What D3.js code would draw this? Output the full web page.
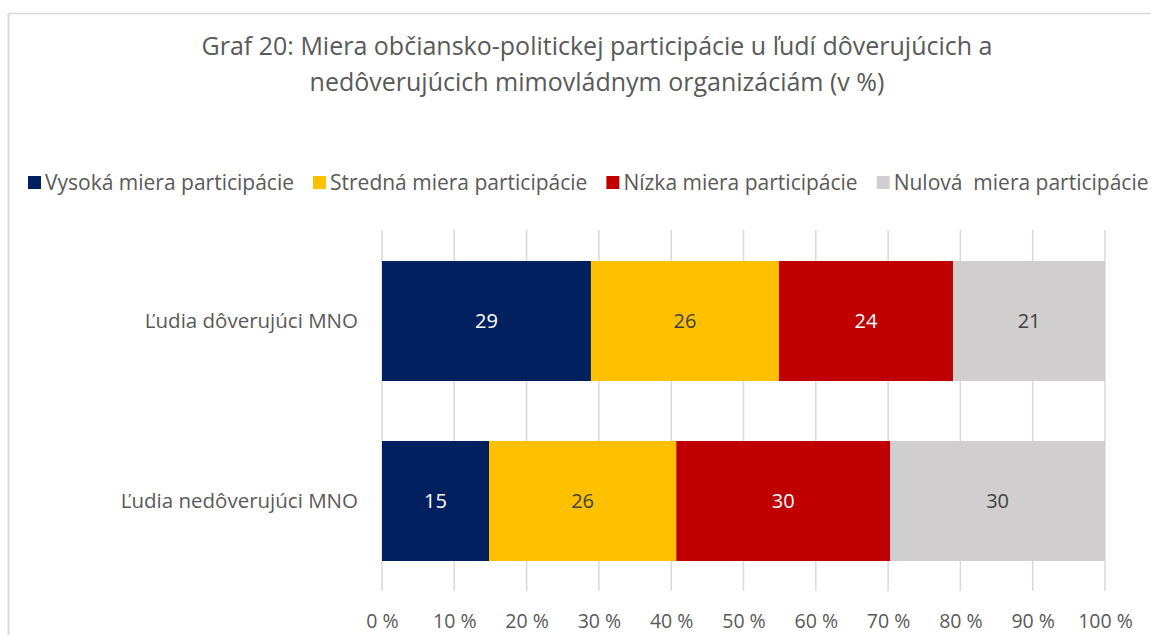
<!DOCTYPE html>
<html>
<head>
<meta charset="utf-8">
<script src="https://cdn.jsdelivr.net/npm/d3@7"></script>
<style>
  body { margin: 0; background: #fff; }
  text { font-family: "Open Sans", sans-serif; }
</style>
</head>
<body>
<div id="chart"></div>
<script>
// Chart values
const titleLines = [
  "Graf 20: Miera občiansko-politickej participácie u ľudí dôverujúcich a",
  "nedôverujúcich mimovládnym organizáciám (v %)"
];
const categories = ["Ľudia dôverujúci MNO", "Ľudia nedôverujúci MNO"];
const seriesNames = ["Vysoká miera participácie", "Stredná miera participácie", "Nízka miera participácie", "Nulová  miera participácie"];
const seriesColors = ["#002060", "#FFC000", "#C00000", "#D0CECE"];
const labelColors = ["#ffffff", "#404040", "#ffffff", "#404040"];
const vysoka = [28.9, 14.8];
const stredna = [26.0, 25.9];
const nizka = [24.1, 29.6];
const nulova = [21.0, 29.7];
const xTicks = [0, 10, 20, 30, 40, 50, 60, 70, 80, 90, 100];

const width = 1151, height = 635;
// plot area, roughly where Excel put it
const plot = { left: 382, right: 1105, top: 230, bottom: 591 };

const svg = d3.select("#chart").append("svg")
  .attr("width", width)
  .attr("height", height);

// frame around the chart (only top and left edges are visible)
svg.append("line").attr("x1", 8.5).attr("x2", width).attr("y1", 13.5).attr("y2", 13.5)
  .attr("stroke", "#d9d9d9").attr("stroke-width", 1.5);
svg.append("line").attr("x1", 8.5).attr("x2", 8.5).attr("y1", 13.5).attr("y2", height)
  .attr("stroke", "#d9d9d9").attr("stroke-width", 2);

// Title
svg.append("g").selectAll("text")
  .data(titleLines)
  .enter().append("text")
    .attr("x", 597)
    .attr("y", (d, i) => 55 + i * 36)
    .attr("text-anchor", "middle")
    .style("font-size", "25px")
    .style("fill", "#595959")
    .text(d => d);

// Legend, laid out left to right
const legend = svg.append("g").attr("transform", "translate(28,183)");
let lx = 0;
seriesNames.forEach((name, i) => {
  legend.append("rect")
    .attr("x", lx).attr("y", -7)
    .attr("width", 13).attr("height", 13)
    .attr("fill", seriesColors[i]);
  const t = legend.append("text")
    .attr("x", lx + 17).attr("y", 0)
    .attr("dy", "0.35em")
    .style("font-size", "21px")
    .style("white-space", "pre")
    .style("fill", "#595959")
    .text(name);
  lx += 17 + t.node().getComputedTextLength() + 19;
});

// Scales
const xScale = d3.scaleLinear().domain([0, 100]).range([plot.left, plot.right]);
const yScale = d3.scaleBand().domain(categories)
  .range([plot.top + 1, plot.bottom])
  .paddingInner(1 / 3)
  .paddingOuter(1 / 6);

// Grid lines
svg.append("g").selectAll("line")
  .data(xTicks)
  .enter().append("line")
    .attr("x1", d => xScale(d)).attr("x2", d => xScale(d))
    .attr("y1", plot.top).attr("y2", plot.bottom)
    .attr("stroke", "#d9d9d9").attr("stroke-width", 1.5);

// Stack the series
const rows = categories.map((c, i) => ({
  cat: c, s0: vysoka[i], s1: stredna[i], s2: nizka[i], s3: nulova[i]
}));
const stack = d3.stack().keys(["s0", "s1", "s2", "s3"]);
const layers = stack(rows);

const layerG = svg.append("g").selectAll("g")
  .data(layers)
  .enter().append("g")
    .attr("fill", (d, i) => seriesColors[i]);

layerG.selectAll("rect")
  .data(d => d)
  .enter().append("rect")
    .attr("x", d => xScale(d[0]))
    .attr("width", d => xScale(d[1]) - xScale(d[0]))
    .attr("y", d => yScale(d.data.cat))
    .attr("height", yScale.bandwidth());

// Data labels (rounded like Excel shows them)
layers.forEach((layer, i) => {
  svg.append("g").selectAll("text")
    .data(layer)
    .enter().append("text")
      .attr("x", d => (xScale(d[0]) + xScale(d[1])) / 2)
      .attr("y", d => yScale(d.data.cat) + yScale.bandwidth() / 2)
      .attr("dy", "0.35em")
      .attr("text-anchor", "middle")
      .style("font-size", "20px")
      .style("fill", labelColors[i])
      .text(d => Math.round(d[1] - d[0]));
});

// Category labels
svg.append("g").selectAll("text")
  .data(categories)
  .enter().append("text")
    .attr("x", 358)
    .attr("y", d => yScale(d) + yScale.bandwidth() / 2)
    .attr("dy", "0.35em")
    .attr("text-anchor", "end")
    .style("font-size", "20.5px")
    .style("fill", "#595959")
    .text(d => d);

// X axis tick labels
const xAxis = d3.axisBottom(xScale)
  .tickValues(xTicks)
  .tickSize(0)
  .tickPadding(0)
  .tickFormat(d => d + " %");

const xAxisG = svg.append("g")
  .attr("transform", "translate(0," + 614 + ")")
  .call(xAxis);
xAxisG.select(".domain").remove();
xAxisG.selectAll("text")
  .style("font-family", "Open Sans")
  .style("font-size", "19.5px")
  .style("fill", "#595959");
</script>
</body>
</html>
